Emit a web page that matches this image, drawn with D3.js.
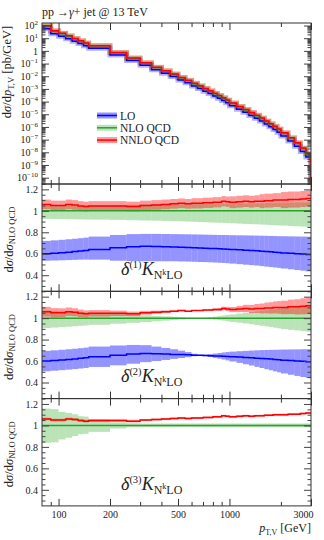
<!DOCTYPE html>
<html>
<head>
<meta charset="utf-8">
<script src="https://cdn.jsdelivr.net/npm/d3@7"></script>
<style>
body { margin: 0; background: #fff; }
text { font-family: "Liberation Serif", "DejaVu Serif", serif; fill: #222; }
</style>
</head>
<body>
<svg id="chart" width="324" height="540"></svg>
<script>
// bin edges in pT [GeV]
var edges = [80, 90, 100, 110, 120, 130, 140, 150, 200, 250, 300, 350, 400, 450, 500, 550, 600, 650, 700, 750, 800, 850, 900, 950, 1000,
  1100, 1200, 1300, 1400, 1500, 1600, 1700, 1800, 1900, 2000, 2200, 2400, 2600, 2800, 3000];

// main panel, dsigma/dpT [pb/GeV]
var xsLO = [56, 22, 14.6, 9.1, 5.7, 3.8, 2.5, 1.62, 0.48, 0.172, 0.073, 0.033, 0.017, 0.0094, 0.0050, 0.0030, 1.72e-3, 1.07e-3, 6.7e-4, 4.3e-4,
  2.8e-4, 1.8e-4, 1.2e-4, 8.1e-5, 4.7e-5, 2.5e-5, 1.42e-5, 8.1e-6, 4.8e-6, 2.9e-6, 1.72e-6, 1.02e-6, 6.3e-7, 3.9e-7, 1.95e-7, 7.7e-8, 3.05e-8, 1.18e-8, 4.2e-9];
var xsNLO = [92, 36, 23.8, 14.6, 9.1, 6.0, 3.94, 2.49, 0.727, 0.26, 0.11, 0.049, 0.0255, 0.0141, 0.0076, 0.0045, 2.6e-3, 1.63e-3, 1.02e-3, 6.6e-4,
  4.25e-4, 2.78e-4, 1.83e-4, 1.24e-4, 7.3e-5, 3.87e-5, 2.2e-5, 1.27e-5, 7.6e-6, 4.6e-6, 2.74e-6, 1.64e-6, 1.02e-6, 6.3e-7, 3.18e-7, 1.27e-7, 5.1e-8, 1.98e-8, 7.1e-9];
var xsNNLO = [98, 38, 25, 15.5, 9.6, 6.3, 4.1, 2.6, 0.76, 0.27, 0.115, 0.052, 0.027, 0.015, 0.0081, 0.0048, 2.8e-3, 1.74e-3, 1.1e-3, 7.1e-4,
  4.6e-4, 3.0e-4, 2.0e-4, 1.35e-4, 7.9e-5, 4.2e-5, 2.4e-5, 1.38e-5, 8.3e-6, 5.0e-6, 3.0e-6, 1.8e-6, 1.12e-6, 6.9e-7, 3.5e-7, 1.4e-7, 5.6e-8, 2.2e-8, 7.9e-9];

// ratios to NLO QCD (central)
var ratioLO = [0.60, 0.605, 0.61, 0.615, 0.62, 0.625, 0.63, 0.64, 0.655, 0.665, 0.67, 0.668, 0.665, 0.662, 0.66, 0.658, 0.655, 0.653, 0.651, 0.65,
  0.648, 0.646, 0.645, 0.643, 0.64, 0.637, 0.633, 0.63, 0.627, 0.624, 0.621, 0.618, 0.615, 0.612, 0.608, 0.604, 0.60, 0.597, 0.594];
var ratioNNLO = [1.06, 1.05, 1.05, 1.06, 1.055, 1.045, 1.04, 1.045, 1.045, 1.04, 1.05, 1.055, 1.06, 1.065, 1.07, 1.065, 1.07, 1.07, 1.075, 1.075,
  1.08, 1.08, 1.09, 1.085, 1.08, 1.085, 1.09, 1.085, 1.09, 1.09, 1.095, 1.095, 1.10, 1.10, 1.10, 1.105, 1.105, 1.11, 1.115];

// delta(1) bands
var loLow1 = [0.535, 0.537, 0.539, 0.541, 0.543, 0.545, 0.546, 0.545, 0.535, 0.532, 0.53, 0.53, 0.53, 0.53, 0.528, 0.527, 0.525, 0.523, 0.522, 0.52,
  0.518, 0.516, 0.514, 0.512, 0.508, 0.503, 0.498, 0.494, 0.49, 0.485, 0.48, 0.476, 0.472, 0.468, 0.462, 0.455, 0.448, 0.442, 0.436];
var loHigh1 = [0.72, 0.725, 0.73, 0.735, 0.74, 0.745, 0.75, 0.76, 0.775, 0.783, 0.785, 0.785, 0.784, 0.783, 0.782, 0.781, 0.78, 0.779, 0.778, 0.777,
  0.776, 0.775, 0.775, 0.774, 0.773, 0.772, 0.771, 0.77, 0.769, 0.768, 0.767, 0.766, 0.765, 0.764, 0.763, 0.762, 0.761, 0.76, 0.759];
var nloLow1 = [0.925, 0.924, 0.923, 0.922, 0.921, 0.92, 0.919, 0.918, 0.915, 0.912, 0.91, 0.908, 0.906, 0.904, 0.902, 0.9, 0.898, 0.896, 0.894, 0.892,
  0.89, 0.889, 0.888, 0.886, 0.884, 0.881, 0.878, 0.876, 0.874, 0.872, 0.87, 0.868, 0.866, 0.864, 0.862, 0.859, 0.856, 0.853, 0.85];
var nloHigh1 = [1.05, 1.05, 1.05, 1.05, 1.05, 1.05, 1.05, 1.052, 1.054, 1.056, 1.058, 1.06, 1.06, 1.06, 1.062, 1.062, 1.063, 1.063, 1.064, 1.064,
  1.065, 1.065, 1.066, 1.066, 1.067, 1.068, 1.069, 1.07, 1.07, 1.071, 1.072, 1.073, 1.074, 1.075, 1.076, 1.077, 1.078, 1.079, 1.08];
var nnloErr1 = [0.045, 0.045, 0.045, 0.045, 0.045, 0.045, 0.045, 0.045, 0.045, 0.045, 0.045, 0.045, 0.045, 0.045, 0.045, 0.045, 0.048, 0.048, 0.048, 0.048,
  0.048, 0.048, 0.048, 0.048, 0.055, 0.055, 0.055, 0.055, 0.055, 0.065, 0.065, 0.065, 0.065, 0.065, 0.075, 0.075, 0.075, 0.075, 0.075];

// delta(2) bands
var loLow2 = [0.505, 0.51, 0.515, 0.52, 0.525, 0.53, 0.535, 0.545, 0.56, 0.575, 0.59, 0.60, 0.61, 0.62, 0.628, 0.636, 0.645, 0.648, 0.645, 0.638,
  0.63, 0.622, 0.614, 0.606, 0.596, 0.583, 0.57, 0.558, 0.546, 0.535, 0.524, 0.514, 0.504, 0.495, 0.484, 0.472, 0.461, 0.451, 0.442];
var loHigh2 = [0.695, 0.70, 0.705, 0.71, 0.715, 0.72, 0.725, 0.735, 0.745, 0.75, 0.748, 0.735, 0.722, 0.71, 0.697, 0.684, 0.668, 0.658, 0.66, 0.665,
  0.67, 0.675, 0.68, 0.684, 0.688, 0.692, 0.695, 0.698, 0.70, 0.702, 0.703, 0.704, 0.705, 0.706, 0.707, 0.708, 0.709, 0.71, 0.71];
var nloLow2 = [0.908, 0.912, 0.916, 0.92, 0.924, 0.928, 0.932, 0.938, 0.948, 0.956, 0.963, 0.97, 0.976, 0.982, 0.987, 0.992, 0.997, 0.999, 0.996, 0.991,
  0.986, 0.981, 0.976, 0.971, 0.965, 0.957, 0.95, 0.943, 0.936, 0.929, 0.923, 0.917, 0.911, 0.905, 0.898, 0.891, 0.885, 0.879, 0.874];
var nloHigh2 = [1.07, 1.067, 1.064, 1.061, 1.058, 1.055, 1.052, 1.047, 1.04, 1.033, 1.027, 1.022, 1.017, 1.013, 1.009, 1.006, 1.003, 1.001, 1.004, 1.009,
  1.014, 1.019, 1.024, 1.029, 1.035, 1.042, 1.049, 1.056, 1.062, 1.068, 1.074, 1.079, 1.084, 1.089, 1.095, 1.101, 1.106, 1.111, 1.115];
var nnloErr2 = [0.045, 0.043, 0.041, 0.039, 0.037, 0.035, 0.033, 0.03, 0.025, 0.021, 0.018, 0.015, 0.012, 0.009, 0.007, 0.005, 0.003, 0.003, 0.005, 0.008,
  0.011, 0.014, 0.017, 0.02, 0.024, 0.029, 0.034, 0.038, 0.042, 0.046, 0.05, 0.053, 0.056, 0.059, 0.063, 0.067, 0.071, 0.075, 0.078];

// delta(3) bands
var nloLow3 = [0.838, 0.842, 0.869, 0.885, 0.90, 0.918, 0.922, 0.94, 0.971, 0.982, 0.984, 0.985, 0.985, 0.985, 0.984, 0.984, 0.983, 0.983, 0.983, 0.983,
  0.982, 0.982, 0.982, 0.982, 0.982, 0.982, 0.982, 0.982, 0.982, 0.982, 0.982, 0.982, 0.982, 0.982, 0.982, 0.982, 0.982, 0.982, 0.982];
var nloHigh3 = [1.157, 1.152, 1.126, 1.117, 1.104, 1.086, 1.082, 1.055, 1.03, 1.02, 1.018, 1.018, 1.018, 1.018, 1.018, 1.018, 1.018, 1.018, 1.018, 1.018,
  1.018, 1.018, 1.018, 1.018, 1.018, 1.018, 1.018, 1.018, 1.018, 1.018, 1.018, 1.018, 1.018, 1.018, 1.018, 1.018, 1.018, 1.018, 1.018];
var nnloErr3 = [0.012, 0.012, 0.012, 0.012, 0.012, 0.012, 0.012, 0.012, 0.012, 0.012, 0.009, 0.009, 0.009, 0.009, 0.009, 0.009, 0.009, 0.009, 0.009, 0.009,
  0.009, 0.009, 0.009, 0.009, 0.009, 0.009, 0.009, 0.009, 0.009, 0.009, 0.009, 0.009, 0.009, 0.009, 0.009, 0.009, 0.009, 0.009, 0.009];

// ticks
var xMajor = [100, 200, 500, 1000, 3000];
var xMinor = [90, 300, 400, 600, 700, 800, 900, 2000];
var xLabels = [100, 200, 500, 1000, 3000];
var logExps = [-10, -9, -8, -7, -6, -5, -4, -3, -2, -1, 0, 1, 2];
var ratioMajor = [0.4, 0.6, 0.8, 1, 1.2];
var legendNames = ['LO', 'NLO QCD', 'NNLO QCD'];

var colLO = '#0000ff', colNLO = '#2ca02c', colNNLO = '#ff0000';
var bandLO = 'rgba(0,0,255,0.42)', bandNLO = 'rgba(40,170,30,0.32)', bandNNLO = 'rgba(255,0,0,0.4)';

var L = 42, R = 311, T = 23, mainH = 161, ratioH = 107.3;
var svg = d3.select('#chart');

var x = d3.scaleLog().domain([80, 3000]).range([L, R]);

function stepLine(g, y, vals, color, width, drop) {
  var pts = edges.map(function (e, i) { return [e, vals[Math.min(i, vals.length - 1)]]; });
  if (drop != null) pts.push([3000, drop]);
  g.append('path')
    .attr('d', d3.line().curve(d3.curveStepAfter).x(function (d) { return x(d[0]); }).y(function (d) { return y(d[1]); })(pts))
    .attr('fill', 'none').attr('stroke', color).attr('stroke-width', width);
}

function band(g, y, lo, hi, fill) {
  g.append('g').selectAll('rect').data(lo).join('rect')
    .attr('x', function (d, i) { return x(edges[i]); })
    .attr('width', function (d, i) { return x(edges[i + 1]) - x(edges[i]); })
    .attr('y', function (d, i) { return y(hi[i]); })
    .attr('height', function (d, i) { return y(lo[i]) - y(hi[i]); })
    .attr('fill', fill);
}

function bandErr(g, y, c, err, fill) {
  band(g, y, c.map(function (v, i) { return v - err[i]; }), c.map(function (v, i) { return v + err[i]; }), fill);
}

function xAxes(top, h, withLabels) {
  [[xMajor, 7], [xMinor, 4]].forEach(function (t) {
    svg.append('g').attr('transform', 'translate(0,' + top + ')').attr('color', '#333')
      .call(d3.axisTop(x).tickValues(t[0]).tickSize(-t[1]).tickFormat(''))
      .call(function (a) { a.select('.domain').remove(); });
    var b = svg.append('g').attr('transform', 'translate(0,' + (top + h) + ')').attr('color', '#333')
      .call(d3.axisBottom(x).tickValues(t[0]).tickSize(-t[1]).tickPadding(5.5)
        .tickFormat(withLabels && t[0] === xMajor ? function (d) { return xLabels.indexOf(d) >= 0 ? d : ''; } : ''))
      .call(function (a) { a.select('.domain').remove(); });
    b.selectAll('text').attr('font-size', 10).attr('fill', '#222')
      .attr('text-anchor', function (d) { return d === 3000 ? 'end' : 'middle'; })
      .attr('dx', function (d) { return d === 3000 ? 2 : 0; });
  });
}

function yAxes(y, major, minor, fmt) {
  [[major, 7, fmt], [minor, 3.5, null]].forEach(function (t) {
    var a = svg.append('g').attr('transform', 'translate(' + L + ',0)').attr('color', '#444')
      .call(d3.axisLeft(y).tickValues(t[0]).tickSize(-t[1]).tickPadding(4).tickFormat(t[2] ? function () { return ''; } : ''))
      .call(function (g) { g.select('.domain').remove(); });
    svg.append('g').attr('transform', 'translate(' + R + ',0)').attr('color', '#444')
      .call(d3.axisRight(y).tickValues(t[0]).tickSize(-t[1]).tickFormat(''))
      .call(function (g) { g.select('.domain').remove(); });
    if (t[2]) a.selectAll('.tick text').attr('font-size', 10).attr('fill', '#222').each(t[2]);
  });
}

function frame(top, h) {
  svg.append('rect').attr('x', L).attr('y', top).attr('width', R - L).attr('height', h)
    .attr('fill', 'none').attr('stroke', '#333').attr('stroke-width', 1);
}

function clipFor(id, top, h) {
  svg.append('clipPath').attr('id', id).append('rect').attr('x', L).attr('y', top).attr('width', R - L).attr('height', h);
  return svg.append('g').attr('clip-path', 'url(#' + id + ')');
}

function rich(parent, parts) {
  parts.forEach(function (p) {
    var s = parent.append('tspan').text(p.t);
    if (p.size) s.attr('font-size', p.size);
    if (p.it) s.attr('font-style', 'italic');
    if (p.dy) s.attr('dy', p.dy);
  });
}

// ---------- main panel ----------
var yMain = d3.scaleLog().domain([Math.pow(10, -10.5), Math.pow(10, 2.2)]).range([T + mainH, T]);
var gMain = clipFor('clipMain', T, mainH);
var yBottom = Math.pow(10, -10.5);
stepLine(gMain, yMain, xsLO, 'rgba(0,0,255,0.3)', 5, yBottom);
stepLine(gMain, yMain, xsNLO, 'rgba(40,170,30,0.3)', 5, yBottom);
stepLine(gMain, yMain, xsNNLO, 'rgba(255,0,0,0.3)', 5, yBottom);
stepLine(gMain, yMain, xsLO, colLO, 1.5, yBottom);
stepLine(gMain, yMain, xsNLO, colNLO, 1.5, yBottom);
stepLine(gMain, yMain, xsNNLO, colNNLO, 1.5, yBottom);

var mainMinor = [];
logExps.concat([-11]).forEach(function (k) {
  for (var m = 2; m <= 9; m++) {
    var v = m * Math.pow(10, k);
    if (v > yMain.domain()[0] && v < yMain.domain()[1]) mainMinor.push(v);
  }
});
yAxes(yMain, logExps.map(function (k) { return Math.pow(10, k); }), mainMinor, function (d) {
  var k = Math.round(Math.log10(d));
  var t = d3.select(this);
  if (k === 0) { t.text('1'); return; }
  t.append('tspan').text('10');
  t.append('tspan').attr('dy', -4).attr('font-size', 7).text(k < 0 ? '\u2212' + (-k) : k);
});
xAxes(T, mainH, false);
frame(T, mainH);

// legend
var legCols = [[bandLO, colLO], [bandNLO, colNLO], [bandNNLO, colNNLO]];
legendNames.forEach(function (name, i) {
  var ly = 115.5 + i * 12.3;
  svg.append('rect').attr('x', 97).attr('y', ly - 3).attr('width', 20).attr('height', 6).attr('fill', legCols[i][0]);
  svg.append('line').attr('x1', 97).attr('x2', 117).attr('y1', ly).attr('y2', ly).attr('stroke', legCols[i][1]).attr('stroke-width', 1.5);
  svg.append('text').attr('x', 120).attr('y', ly + 4).attr('font-size', 11.5).text(name);
});

// title
rich(svg.append('text').attr('x', L).attr('y', 15.5).attr('font-size', 12),
  [{ t: 'pp \u2192' }, { t: '\u03b3', it: true }, { t: '+ jet @ 13 TeV' }]);

// main y label
rich(svg.append('text').attr('transform', 'translate(11,72) rotate(-90)').attr('text-anchor', 'middle').attr('font-size', 12.5),
  [{ t: 'd' }, { t: '\u03c3', it: true }, { t: '/d' }, { t: 'p', it: true }, { t: 'T,V', size: 8.5, dy: 2.5 }, { t: ' [pb/GeV]', dy: -2.5 }]);

// ---------- ratio panels ----------
var ratioMinor = d3.range(0.3, 1.2501, 0.05).map(function (v) { return Math.round(v * 100) / 100; })
  .filter(function (v) { return ratioMajor.indexOf(v) < 0; });

var panels = [
  { lo: [loLow1, loHigh1], nlo: [nloLow1, nloHigh1], nnloErr: nnloErr1, tag: '(1)' },
  { lo: [loLow2, loHigh2], nlo: [nloLow2, nloHigh2], nnloErr: nnloErr2, tag: '(2)' },
  { lo: null, nlo: [nloLow3, nloHigh3], nnloErr: nnloErr3, tag: '(3)' }
];
var ones = edges.slice(1).map(function () { return 1; });

panels.forEach(function (p, k) {
  var top = T + mainH + k * ratioH;
  var y = d3.scaleLinear().domain([0.25, 1.25]).range([top + ratioH, top]);
  var g = clipFor('clipR' + k, top, ratioH);
  band(g, y, p.nlo[0], p.nlo[1], bandNLO);
  if (p.lo) band(g, y, p.lo[0], p.lo[1], bandLO);
  bandErr(g, y, ratioNNLO, p.nnloErr, bandNNLO);
  if (p.lo) stepLine(g, y, ratioLO, colLO, 1.5);
  stepLine(g, y, ones, colNLO, 1.5);
  stepLine(g, y, ratioNNLO, colNNLO, 1.5);

  yAxes(y, ratioMajor, ratioMinor, function (d) {
    d3.select(this).text(d === 1 ? '1' : d3.format('.1f')(d));
  });
  xAxes(top, ratioH, k === panels.length - 1);
  frame(top, ratioH);

  rich(svg.append('text').attr('transform', 'translate(12.5,' + (top + ratioH / 2 + 2) + ') rotate(-90)').attr('text-anchor', 'middle').attr('font-size', 12.5),
    [{ t: 'd' }, { t: '\u03c3', it: true }, { t: '/d' }, { t: '\u03c3', it: true }, { t: 'NLO QCD', size: 8.5, dy: 2.5 }]);

  rich(svg.append('text').attr('x', 121).attr('y', top + 91).attr('font-size', 18),
    [{ t: '\u03b4', it: true }, { t: p.tag, size: 10.5, dy: -7 }, { t: 'K', it: true, dy: 7 }, { t: 'N', size: 12, dy: 4 },
     { t: 'k', size: 8, dy: -4.5 }, { t: 'LO', size: 12, dy: 4.5 }]);
});

// x label
rich(svg.append('text').attr('x', R).attr('y', 532).attr('text-anchor', 'end').attr('font-size', 12),
  [{ t: 'p', it: true }, { t: 'T,V', size: 8, dy: 2.5 }, { t: ' [GeV]', dy: -2.5 }]);
</script>
</body>
</html>
